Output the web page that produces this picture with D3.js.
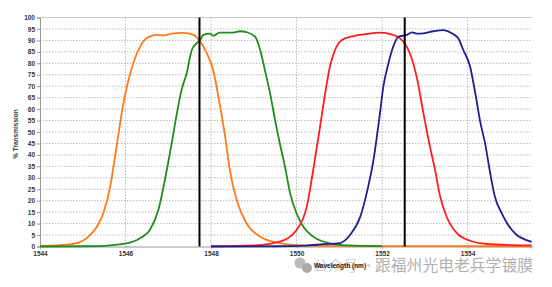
<!DOCTYPE html>
<html>
<head>
<meta charset="utf-8">
<script src="https://cdn.jsdelivr.net/npm/d3@7"></script>
<style>
  body { margin: 0; background: #fff; }
  svg { display: block; }
  .tick-label { font-family: "Liberation Sans", Arial, sans-serif; font-size: 6.5px; font-weight: bold; fill: #333; }
</style>
</head>
<body>
<svg id="chart" width="552" height="287"></svg>
<script>
// wavelength (nm) / transmission (%)
var orangeNm = [1544, 1544.4, 1544.78, 1545.0, 1545.17, 1545.33, 1545.48, 1545.64, 1545.79, 1545.95, 1546.07, 1546.18, 1546.34, 1546.5, 1546.73, 1546.9, 1547.12, 1547.35, 1547.59, 1547.73, 1547.9, 1548.05, 1548.2, 1548.33, 1548.44, 1548.6, 1548.83, 1549.15, 1549.54, 1550, 1550.5, 1551.5, 1555.5]
var orangeT = [0.3, 0.5, 1.1, 2.5, 5, 8.6, 14.5, 26, 43.6, 62.5, 72.7, 80, 87.2, 91, 92.4, 92.2, 93.1, 93.3, 92.4, 90, 84.4, 77, 62.5, 48, 33.4, 20.3, 10.1, 4.3, 1.7, 0.6, 0.3, 0.2, 0.1]

var greenNm = [1544, 1545, 1545.5, 1545.95, 1546.34, 1546.57, 1546.77, 1546.92, 1547.08, 1547.2, 1547.31, 1547.43, 1547.55, 1547.66, 1547.74, 1547.82, 1547.98, 1548.05, 1548.2, 1548.52, 1548.68, 1548.83, 1549.03, 1549.15, 1549.26, 1549.38, 1549.5, 1549.61, 1549.73, 1549.85, 1550, 1550.16, 1550.39, 1550.78, 1551.2, 1552]
var greenT = [0, 0.1, 0.3, 1.1, 3.6, 7.2, 16, 29, 45, 58, 68.3, 75.6, 85.8, 88.7, 90, 92.4, 93, 92, 93.4, 93.4, 94, 93.6, 91.6, 85.8, 77, 67, 55, 45, 34.8, 23.2, 14.5, 8.6, 4.3, 1.4, 0.5, 0.2]

var redNm = [1548, 1549, 1549.61, 1550, 1550.24, 1550.39, 1550.55, 1550.67, 1550.78, 1550.9, 1551.06, 1551.33, 1551.64, 1551.95, 1552.26, 1552.5, 1552.65, 1552.81, 1552.97, 1553.12, 1553.24, 1553.36, 1553.51, 1553.75, 1554.06, 1554.45, 1555.07, 1555.5]
var redT = [0.1, 0.5, 2.1, 7.2, 17.4, 33.4, 52.3, 67, 78.5, 85.8, 90.2, 91.9, 92.8, 93.4, 92.4, 89.4, 84.4, 74, 58, 43.6, 33.4, 21.7, 13, 5.8, 2.5, 1.1, 0.6, 0.5]

var blueNm = [1548, 1549.5, 1550.2, 1550.63, 1551.02, 1551.25, 1551.49, 1551.64, 1551.8, 1551.95, 1552.03, 1552.15, 1552.26, 1552.38, 1552.58, 1552.7, 1552.81, 1552.97, 1553.2, 1553.43, 1553.63, 1553.78, 1553.9, 1554.06, 1554.18, 1554.29, 1554.41, 1554.53, 1554.64, 1554.8, 1554.95, 1555.15, 1555.38, 1555.5]
var blueT = [0, 0.1, 0.4, 1, 1.5, 5, 13, 23.2, 37.8, 58, 69.8, 80, 87.2, 91.6, 92.4, 93.5, 93, 93.1, 94, 94.5, 93.1, 91, 85.8, 78.5, 67, 55, 45, 32, 21.7, 14.5, 9.4, 5, 2.8, 2]

var markerNm = [1547.73, 1552.53]
var xTicks = [1544, 1546, 1548, 1550, 1552, 1554]
var yTicks = d3.range(0, 101, 5)

var svg = d3.select('#chart')
var plotL = 40, plotR = 531.7, plotT = 17.5, plotB = 246.5

var x = d3.scaleLinear().domain([1544, 1555.5]).range([plotL, plotR])
var y = d3.scaleLinear().domain([0, 100]).range([plotB, plotT])

// grid
svg.append('g').selectAll('line')
    .data(yTicks.filter(function(d) { return d > 0 && d < 100 }))
    .enter().append('line')
    .attr('x1', plotL).attr('x2', plotR)
    .attr('y1', function(d) { return y(d) }).attr('y2', function(d) { return y(d) })
    .attr('stroke', '#aaa').attr('stroke-width', 0.8).attr('stroke-dasharray', '1.5,1.5')
svg.append('g').selectAll('line')
    .data(xTicks.filter(function(d) { return d > 1544 }))
    .enter().append('line')
    .attr('x1', function(d) { return x(d) }).attr('x2', function(d) { return x(d) })
    .attr('y1', plotT).attr('y2', plotB)
    .attr('stroke', '#aaa').attr('stroke-width', 0.8).attr('stroke-dasharray', '1.5,1.5')

// top border
svg.append('line').attr('x1', plotL).attr('x2', plotR).attr('y1', plotT).attr('y2', plotT)
    .attr('stroke', '#ccc').attr('stroke-width', 1.2)

// axes
svg.append('g').attr('transform', 'translate(' + plotL + ',0)')
    .call(d3.axisLeft(y).tickValues(yTicks).tickSize(3).tickPadding(2))
svg.append('g').attr('transform', 'translate(0,' + plotB + ')')
    .call(d3.axisBottom(x).tickValues(xTicks).tickFormat(d3.format('d')).tickSize(2).tickPadding(3))
svg.selectAll('.domain').attr('stroke', '#999')
svg.selectAll('.tick line').attr('stroke', '#999')
svg.selectAll('.tick text').attr('class', 'tick-label').attr('font-size', null).attr('font-family', null)

// curves
var line = d3.line()
    .x(function(d) { return x(d[0]) })
    .y(function(d) { return y(d[1]) })
    .curve(d3.curveMonotoneX)
var series = [
    { nm: orangeNm, t: orangeT, color: '#ff7a1a' },
    { nm: greenNm, t: greenT, color: '#1e8c1e' },
    { nm: redNm, t: redT, color: '#ff1e1e' },
    { nm: blueNm, t: blueT, color: '#1e1e8c' }
]
series.forEach(function(s) {
    svg.append('path')
        .datum(d3.zip(s.nm, s.t))
        .attr('d', line)
        .attr('fill', 'none')
        .attr('stroke', s.color)
        .attr('stroke-width', 1.8)
})

// black markers
svg.selectAll('line.marker').data(markerNm).enter().append('line')
    .classed('marker', true)
    .attr('x1', function(d) { return x(d) }).attr('x2', function(d) { return x(d) })
    .attr('y1', plotT).attr('y2', plotB)
    .attr('stroke', '#000').attr('stroke-width', 2)

// axis titles
svg.append('text')
    .attr('transform', 'translate(18,134) rotate(-90)')
    .attr('text-anchor', 'middle')
    .attr('class', 'tick-label')
    .text('% Transmission')

// watermark
var wm = svg.append('g')
wm.append('circle').attr('cx', 300).attr('cy', 263).attr('r', 5.5).attr('fill', '#bbb')
wm.append('circle').attr('cx', 307).attr('cy', 268).attr('r', 5).attr('fill', '#aaa')
wm.append('text').attr('x', 313).attr('y', 271)
    .attr('font-family', '"Noto Sans CJK SC", sans-serif').attr('font-size', '15px')
    .attr('fill', '#d4d4d4').text('公众号 ·')

svg.append('text')
    .attr('x', 340).attr('y', 268)
    .attr('text-anchor', 'middle')
    .attr('class', 'tick-label')
    .style('fill', '#111')
    .text('Wavelength (nm)')

wm.append('text').attr('x', 375).attr('y', 271)
    .attr('font-family', '"Noto Sans CJK SC", sans-serif').attr('font-size', '15.8px')
    .attr('fill', '#b0b0b0').text('跟福州光电老兵学镀膜')
</script>
</body>
</html>
